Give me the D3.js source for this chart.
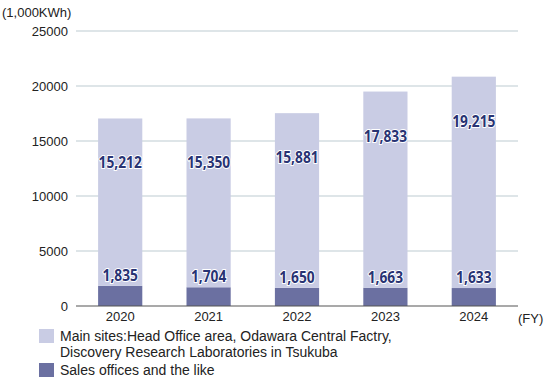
<!DOCTYPE html>
<html><head><meta charset="utf-8">
<script src="https://cdn.jsdelivr.net/npm/d3@7"></script>
<style>body{margin:0;background:#fff}</style>
</head><body>
<svg id="c" width="550" height="380"></svg>
<script>
const years = ["2020","2021","2022","2023","2024"];
const mainSites = [15212,15350,15881,17833,19215];
const salesOffices = [1835,1704,1650,1663,1633];
const yTicks = [0,5000,10000,15000,20000,25000];
const legendLabels = [["Main sites:Head Office area, Odawara Central Factry,","Discovery Research Laboratories in Tsukuba"],["Sales offices and the like"]];

const svg = d3.select("#c");
const L=76, R=518, T=31, B=306;
const x = d3.scaleBand().domain(years).range([L,R]).paddingInner(0.5).paddingOuter(0.25);
const y = d3.scaleLinear().domain([0,25000]).range([B,T]);
const font = "'Liberation Sans', Arial, sans-serif";

// grid
svg.append("g").selectAll("line").data(yTicks.filter(d=>d>0)).join("line")
  .attr("x1",L).attr("x2",R).attr("y1",d=>y(d)).attr("y2",d=>y(d))
  .attr("stroke","#d3dce0").attr("stroke-width",1.5);

// y labels
const yAxis = d3.axisLeft(y).tickValues(yTicks).tickSize(0).tickPadding(8).tickFormat(d3.format("d"));
const ga = svg.append("g").attr("transform",`translate(${L},0)`).call(yAxis);
ga.select(".domain").remove();
ga.selectAll("text").attr("font-family",font).attr("font-size",13).attr("fill","#222");

const colLight="#c9cce4", colDark="#6b70a1";
// bars
const g = svg.append("g");
g.selectAll(".dk").data(years).join("rect").attr("class","dk")
  .attr("x",d=>x(d)).attr("width",x.bandwidth())
  .attr("y",(d,i)=>y(salesOffices[i])).attr("height",(d,i)=>B-y(salesOffices[i]))
  .attr("fill",colDark);
g.selectAll(".lt").data(years).join("rect").attr("class","lt")
  .attr("x",d=>x(d)).attr("width",x.bandwidth())
  .attr("y",(d,i)=>y(salesOffices[i]+mainSites[i])).attr("height",(d,i)=>y(salesOffices[i])-y(salesOffices[i]+mainSites[i]))
  .attr("fill",colLight);

// baseline
svg.append("line").attr("x1",L).attr("x2",R).attr("y1",B).attr("y2",B).attr("stroke","#555").attr("stroke-width",1.2);

const fmt = d3.format(",");
const lblFont = "'Noto Sans', sans-serif";
function lbl(sel){
  sel.attr("text-anchor","middle").attr("font-family",lblFont).attr("font-weight","bold").attr("font-size",16)
    .attr("fill","#283373").attr("stroke","#fff").attr("stroke-width",2).attr("paint-order","stroke");
}
g.selectAll(".lu").data(years).join("text")
  .attr("transform",(d,i)=>`translate(${x(d)+x.bandwidth()/2},${y(salesOffices[i]+mainSites[i])+50}) scale(0.86,1)`)
  .call(lbl).text((d,i)=>fmt(mainSites[i]));
g.selectAll(".ll").data(years).join("text")
  .attr("transform",(d,i)=>`translate(${x(d)+x.bandwidth()/2},${y(salesOffices[i])-5}) scale(0.86,1)`)
  .call(lbl).text((d,i)=>fmt(salesOffices[i]));

// x labels
const xAxis = d3.axisBottom(x).tickSize(0).tickPadding(6);
const gx = svg.append("g").attr("transform",`translate(0,${B})`).call(xAxis);
gx.select(".domain").remove();
gx.selectAll("text").attr("font-family",font).attr("font-size",13).attr("fill","#222");
svg.append("text").attr("x",R).attr("y",B+17).attr("font-family",font).attr("font-size",13).attr("fill","#222").text("(FY)");
svg.append("text").attr("x",2).attr("y",17).attr("font-family",font).attr("font-size",13).attr("fill","#222").text("(1,000KWh)");

// legend
const lg = svg.append("g");
const lgY=[329,363], cols=[colLight,colDark];
legendLabels.forEach((lines,k)=>{
  lg.append("rect").attr("x",39).attr("y",lgY[k]).attr("width",15).attr("height",14).attr("fill",cols[k]);
  lines.forEach((t,j)=>{
    lg.append("text").attr("x",60).attr("y",lgY[k]+12+j*16).attr("font-family",font).attr("font-size",14).attr("fill","#222").text(t);
  });
});
</script>
</body></html>
